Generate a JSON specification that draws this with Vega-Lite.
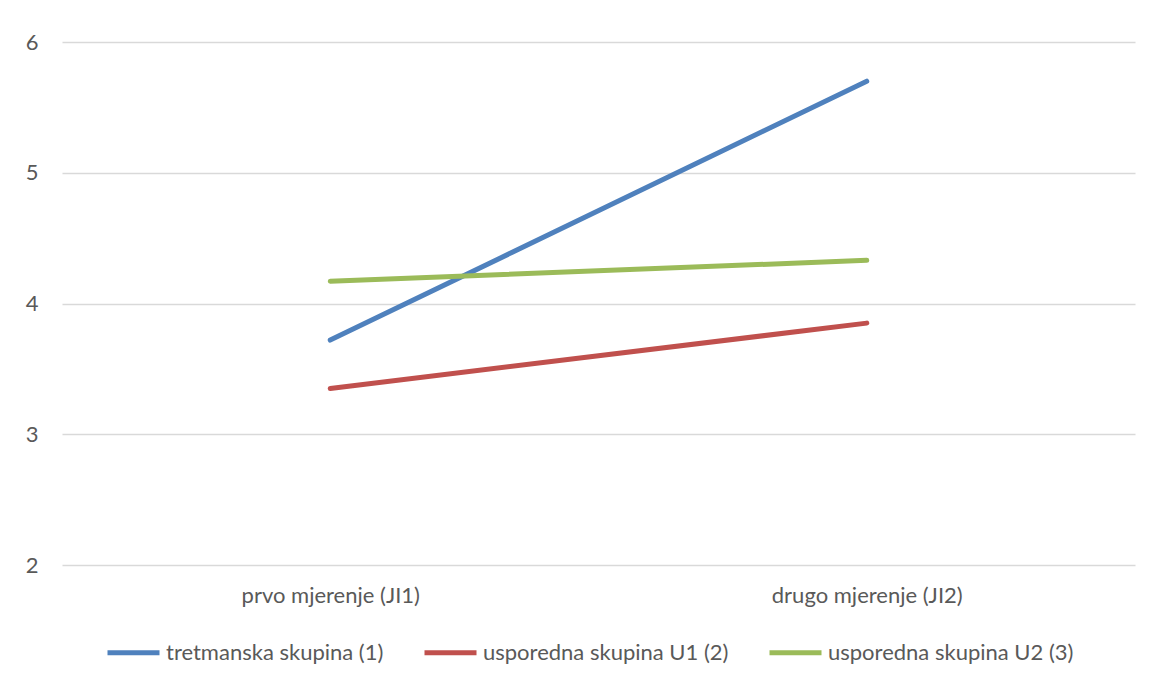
{
  "$schema": "https://vega.github.io/schema/vega-lite/v6.json",
  "autosize": {"type": "none"},
  "width": 1073,
  "height": 523,
  "padding": {"left": 62, "top": 42, "right": 14, "bottom": 117},
  "background": "white",
  "config": {
    "view": {"stroke": null},
    "font": "Lato",
    "axis": {"labelFont": "Lato", "labelColor": "#595959", "labelFontSize": 22, "labelLimit": 400}
  },
  "data": {
    "values": [
      {"mjerenje": "prvo mjerenje (JI1)", "skupina": "tretmanska skupina (1)", "vrijednost": 3.72},
      {"mjerenje": "drugo mjerenje (JI2)", "skupina": "tretmanska skupina (1)", "vrijednost": 5.70},
      {"mjerenje": "prvo mjerenje (JI1)", "skupina": "usporedna skupina U1 (2)", "vrijednost": 3.35},
      {"mjerenje": "drugo mjerenje (JI2)", "skupina": "usporedna skupina U1 (2)", "vrijednost": 3.85},
      {"mjerenje": "prvo mjerenje (JI1)", "skupina": "usporedna skupina U2 (3)", "vrijednost": 4.17},
      {"mjerenje": "drugo mjerenje (JI2)", "skupina": "usporedna skupina U2 (3)", "vrijednost": 4.33}
    ]
  },
  "mark": {"type": "line", "strokeWidth": 5, "strokeCap": "round"},
  "encoding": {
    "x": {
      "field": "mjerenje",
      "type": "nominal",
      "sort": ["prvo mjerenje (JI1)", "drugo mjerenje (JI2)"],
      "scale": {"type": "point", "padding": 0.5},
      "axis": {"title": null, "labelAngle": 0, "ticks": false, "domain": false, "grid": false, "labelPadding": 20, "labelLimit": 400}
    },
    "y": {
      "field": "vrijednost",
      "type": "quantitative",
      "scale": {"domain": [2, 6], "nice": false, "zero": false},
      "axis": {"title": null, "values": [2, 3, 4, 5, 6], "ticks": false, "domain": false, "grid": true, "gridColor": "#d9d9d9", "gridWidth": 1.3, "labelPadding": 24}
    },
    "color": {
      "field": "skupina",
      "type": "nominal",
      "sort": ["tretmanska skupina (1)", "usporedna skupina U1 (2)", "usporedna skupina U2 (3)"],
      "scale": {
        "domain": ["tretmanska skupina (1)", "usporedna skupina U1 (2)", "usporedna skupina U2 (3)"],
        "range": ["#4f81bd", "#c0504d", "#9bbb59"]
      },
      "legend": {
        "title": null,
        "orient": "none",
        "direction": "horizontal",
        "legendX": 43,
        "legendY": 582,
        "symbolType": "stroke",
        "symbolSize": 2704,
        "symbolStrokeWidth": 5,
        "labelFontSize": 22,
        "labelFont": "Lato",
        "labelColor": "#595959",
        "labelOffset": 4,
        "columnPadding": 30,
        "labelLimit": 400
      }
    }
  }
}
